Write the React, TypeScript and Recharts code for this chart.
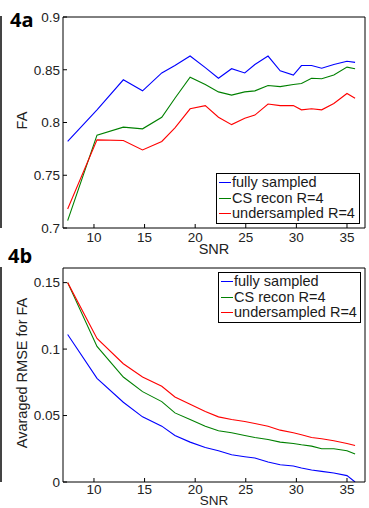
import { Label, Legend, Line, LineChart, XAxis, YAxis } from 'recharts';

// SNR sample positions shared by both panels
const SNR = [7.4, 10.3, 12.9, 14.8, 16.7, 18.0, 19.5, 21.0, 22.3, 23.6, 24.9, 25.9, 27.2, 28.4, 29.7, 30.5, 31.5, 32.5, 33.7, 35.0, 35.8];

// 4a: FA
const FA_FULL = [0.782, 0.812, 0.8405, 0.83, 0.847, 0.854, 0.863, 0.852, 0.842, 0.851, 0.847, 0.855, 0.863, 0.849, 0.845, 0.854, 0.854, 0.8515, 0.855, 0.858, 0.857];
const FA_CS = [0.707, 0.788, 0.7956, 0.794, 0.805, 0.823, 0.843, 0.836, 0.829, 0.826, 0.829, 0.83, 0.835, 0.834, 0.836, 0.837, 0.842, 0.8415, 0.845, 0.8525, 0.851];
const FA_UNDER = [0.718, 0.7835, 0.783, 0.774, 0.782, 0.795, 0.813, 0.816, 0.805, 0.798, 0.804, 0.807, 0.8175, 0.816, 0.816, 0.812, 0.813, 0.812, 0.818, 0.8275, 0.823];

// 4b: averaged RMSE for FA
const RMSE_FULL = [0.111, 0.078, 0.06, 0.049, 0.042, 0.035, 0.03, 0.026, 0.0235, 0.0205, 0.019, 0.018, 0.015, 0.013, 0.012, 0.0105, 0.009, 0.008, 0.0068, 0.0048, 0.0];
const RMSE_CS = [0.15, 0.102, 0.079, 0.068, 0.0605, 0.052, 0.047, 0.042, 0.0385, 0.037, 0.035, 0.0335, 0.032, 0.03, 0.029, 0.028, 0.027, 0.025, 0.025, 0.0235, 0.021];
const RMSE_UNDER = [0.15, 0.108, 0.089, 0.079, 0.072, 0.064, 0.0585, 0.053, 0.049, 0.047, 0.0455, 0.044, 0.042, 0.039, 0.037, 0.0355, 0.0335, 0.0325, 0.031, 0.029, 0.0275];

const X_TICKS = [10, 15, 20, 25, 30, 35];
const FA_TICKS = [0.7, 0.75, 0.8, 0.85, 0.9];
const RMSE_TICKS = [0, 0.05, 0.1, 0.15];

const SERIES = [
  { key: 'full', name: 'fully sampled', color: '#0000ff' },
  { key: 'cs', name: 'CS recon R=4', color: '#008000' },
  { key: 'under', name: 'undersampled R=4', color: '#ff0000' },
];

const FONT = '"Liberation Sans", Arial, Helvetica, sans-serif';
const X_DOMAIN: [number, number] = [6.94, 36.78];

const faData = SNR.map((snr, i) => ({ snr, full: FA_FULL[i], cs: FA_CS[i], under: FA_UNDER[i] }));
const rmseData = SNR.map((snr, i) => ({ snr, full: RMSE_FULL[i], cs: RMSE_CS[i], under: RMSE_UNDER[i] }));

const tickStyle = { fontSize: 13.5, fill: '#222', fontFamily: FONT };

function rotatedLabel(text: string) {
  return (props: any) => {
    const vb = props.viewBox || { x: 23, y: 0, width: 40, height: 0 };
    const x = vb.x - 1;
    const y = vb.y + vb.height / 2 - 2;
    return (
      <text
        x={x}
        y={y}
        transform={`rotate(-90 ${x} ${y})`}
        textAnchor="middle"
        dominantBaseline="central"
        fontSize={14.5}
        fill="#222"
        fontFamily={FONT}
      >
        {text}
      </text>
    );
  };
}

// legend keeps the plotting order (recharts would sort it by name)
function LegendBox() {
  return (
    <div
      style={{
        border: '1px solid #000',
        background: '#fff',
        padding: '1px 0 1px 2px',
        fontFamily: FONT,
        fontSize: 14.5,
        lineHeight: '15.6px',
        color: '#1a1a1a',
        boxSizing: 'border-box',
      }}
    >
      {SERIES.map((s) => (
        <div key={s.key} style={{ display: 'flex', alignItems: 'center', whiteSpace: 'nowrap' }}>
          <span style={{ display: 'inline-block', width: 12, height: 1, background: s.color, marginRight: 1 }} />
          {s.name}
        </div>
      ))}
    </div>
  );
}

type PanelProps = {
  data: any[];
  top: number;
  height: number;
  marginTop: number;
  xAxisHeight: number;
  yDomain: [number, number];
  yTicks: number[];
  yLabel: string;
  xTickMargin: number;
  snrOffset: number;
  snrSize: number;
  legend: { left: number; top: number; width: number };
};

function Panel(p: PanelProps) {
  return (
    <div style={{ position: 'absolute', left: 0, top: p.top }}>
      <LineChart width={369} height={p.height} data={p.data} margin={{ top: p.marginTop, right: 3, bottom: 0, left: 23 }}>
        <XAxis
          xAxisId="b"
          dataKey="snr"
          type="number"
          domain={X_DOMAIN}
          allowDataOverflow
          ticks={X_TICKS}
          interval={0}
          height={p.xAxisHeight}
          tickSize={-4}
          tickMargin={p.xTickMargin}
          tick={tickStyle}
          stroke="#000"
        >
          <Label value="SNR" position="insideBottom" offset={p.snrOffset} style={{ fontSize: p.snrSize, fill: '#222', fontFamily: FONT }} />
        </XAxis>
        <XAxis
          xAxisId="t"
          orientation="top"
          dataKey="snr"
          type="number"
          domain={X_DOMAIN}
          allowDataOverflow
          ticks={X_TICKS}
          interval={0}
          height={1}
          tickSize={-4}
          tick={false}
          stroke="#000"
        />
        <YAxis
          yAxisId="l"
          type="number"
          domain={p.yDomain}
          allowDataOverflow
          ticks={p.yTicks}
          interval={0}
          width={40}
          tickSize={-4}
          tickMargin={7}
          tick={tickStyle}
          stroke="#000"
        >
          <Label content={rotatedLabel(p.yLabel)} />
        </YAxis>
        <YAxis
          yAxisId="r"
          orientation="right"
          type="number"
          domain={p.yDomain}
          allowDataOverflow
          ticks={p.yTicks}
          interval={0}
          width={1}
          tickSize={-4}
          tick={false}
          stroke="#000"
        />
        {SERIES.map((s) => (
          <Line
            key={s.key}
            xAxisId="b"
            yAxisId="l"
            type="linear"
            dataKey={s.key}
            name={s.name}
            stroke={s.color}
            strokeWidth={1.1}
            dot={false}
            activeDot={false}
            isAnimationActive={false}
          />
        ))}
        <Legend
          layout="vertical"
          align="center"
          verticalAlign="middle"
          content={<LegendBox />}
          wrapperStyle={{ left: p.legend.left, top: p.legend.top, width: p.legend.width }}
        />
      </LineChart>
    </div>
  );
}

export default function App() {
  return (
    <div style={{ position: 'absolute', left: 0, top: 0, width: 369, height: 508, background: '#fff', overflow: 'hidden' }}>
      {/* edge of the neighbouring figure, cropped */}
      <div style={{ position: 'absolute', left: 0, top: 16, width: 2, height: 212, background: '#444' }} />
      <div style={{ position: 'absolute', left: 0, top: 267, width: 2, height: 215, background: '#444' }} />

      <Panel
        data={faData}
        top={0}
        height={262}
        marginTop={16}
        xAxisHeight={34}
        yDomain={[0.7, 0.9]}
        yTicks={FA_TICKS}
        yLabel="FA"
        xTickMargin={8}
        snrOffset={8.5}
        snrSize={14.5}
        legend={{ left: 216, top: 173, width: 144 }}
      />
      <Panel
        data={rmseData}
        top={250}
        height={258}
        marginTop={17}
        xAxisHeight={26}
        yDomain={[0, 0.161]}
        yTicks={RMSE_TICKS}
        yLabel="Avaraged RMSE for FA"
        xTickMargin={6}
        snrOffset={3.5}
        snrSize={13.5}
        legend={{ left: 218, top: 22, width: 143 }}
      />

      <div style={{ position: 'absolute', left: 10, top: 9.5, fontFamily: '"Open Sans", sans-serif', fontWeight: 700, fontSize: 20, lineHeight: '20px', color: '#000' }}>
        4a
      </div>
      <div style={{ position: 'absolute', left: 8, top: 245.5, fontFamily: '"Open Sans", sans-serif', fontWeight: 700, fontSize: 20, lineHeight: '20px', color: '#000' }}>
        4b
      </div>
    </div>
  );
}
